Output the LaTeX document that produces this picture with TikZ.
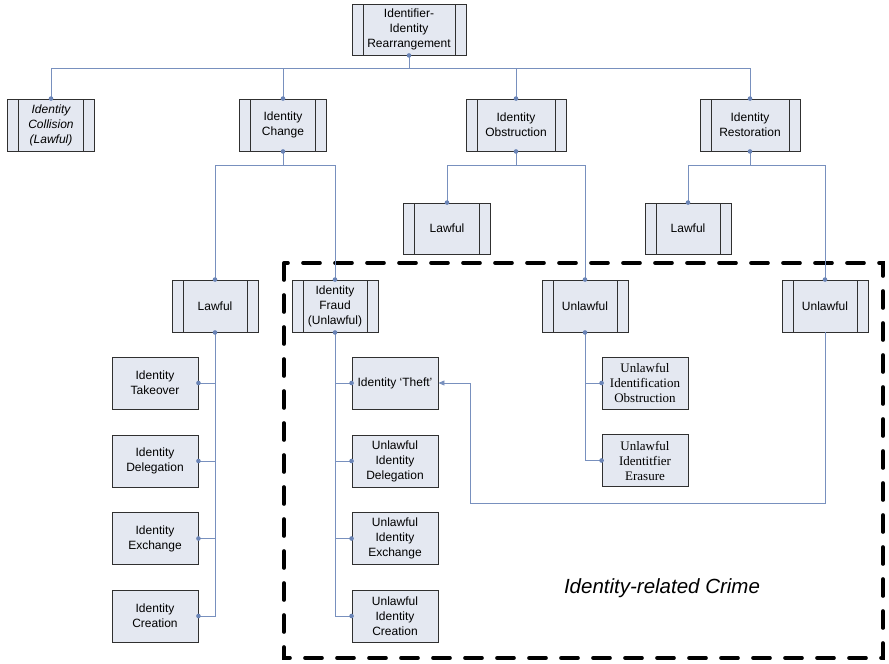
\documentclass[tikz,border=0pt]{standalone}
\usepackage{fontspec}
\setmainfont{Liberation Sans}
\newfontfamily\serifface{Liberation Serif}
\usetikzlibrary{arrows.meta}
\definecolor{boxfill}{HTML}{E4E8F1}
\definecolor{boxline}{HTML}{303030}
\definecolor{conncol}{HTML}{7890BE}
\definecolor{dotcol}{HTML}{6A84B6}
\tikzset{
  base/.style={draw=boxline, line width=0.9pt, fill=boxfill, inner sep=0pt, align=center,
    font=\fontsize{12}{15}\selectfont, minimum width=86pt, minimum height=52pt},
  barbox/.style={base, path picture={
    \draw[boxline, line width=0.9pt]
      ([xshift=11pt]path picture bounding box.north west) -- ([xshift=11pt]path picture bounding box.south west)
      ([xshift=-11pt]path picture bounding box.north east) -- ([xshift=-11pt]path picture bounding box.south east);}},
  leaf/.style={base},
  serifleaf/.style={base, font=\serifface\fontsize{13}{15}\selectfont},
  conn/.style={draw=conncol, line width=0.9pt},
  jdot/.style={fill=dotcol},
  crime/.style={draw=black, line width=3.6pt, dash pattern=on 17pt off 15pt, line cap=round}
}
\begin{document}
\begin{tikzpicture}[x=1pt,y=-1pt]
\useasboundingbox (0,0) rectangle (889,664);
% dashed region
\draw[crime] (284,263) rectangle (883,658);
\node[font=\fontsize{20.5}{23}\selectfont\itshape] (crimelbl) at (662,588) {Identity-related Crime};
% nodes
\node[barbox, minimum width=114pt, minimum height=51pt] (top) at (409,29.5) {Identifier-\\Identity\\Rearrangement};
\node[barbox, minimum width=87pt] (coll) at (51,125) {\itshape Identity\\\itshape Collision\\\itshape (Lawful)};
\node[barbox, minimum width=87pt] (chg) at (283,125) {Identity\\Change};
\node[barbox, minimum width=100pt] (obs) at (516,125) {Identity\\Obstruction};
\node[barbox, minimum width=100pt] (res) at (750,125) {Identity\\Restoration};
\node[barbox] (lawA) at (215,306) {Lawful};
\node[barbox] (fraud) at (335,306) {Identity\\Fraud\\(Unlawful)};
\node[barbox, minimum width=87pt, minimum height=51pt] (lawB) at (447,228.5) {Lawful};
\node[barbox] (unlB) at (585,306) {Unlawful};
\node[barbox, minimum height=51pt] (lawC) at (688,228.5) {Lawful};
\node[barbox] (unlC) at (825,306) {Unlawful};
% leaves
\node[leaf] (tko) at (155,383) {Identity\\Takeover};
\node[leaf] (del) at (155,461) {Identity\\Delegation};
\node[leaf] (exc) at (155,538.5) {Identity\\Exchange};
\node[leaf] (cre) at (155,616) {Identity\\Creation};
\node[leaf] (theft) at (395,383) {Identity ‘Theft’};
\node[leaf] (udel) at (395,461) {Unlawful\\Identity\\Delegation};
\node[leaf] (uexc) at (395,538.5) {Unlawful\\Identity\\Exchange};
\node[leaf] (ucre) at (395,616) {Unlawful\\Identity\\Creation};
\node[serifleaf] (uio) at (645,383) {Unlawful\\Identification\\Obstruction};
\node[serifleaf] (uie) at (645,460.5) {Unlawful\\Identitfier\\Erasure};
% connectors level 1
\draw[conn] (top.south) -- ++(0,13) -| (coll.north);
\draw[conn] (top.south) ++(0,13) -| (chg.north);
\draw[conn] (top.south) ++(0,13) -| (obs.north);
\draw[conn] (top.south) ++(0,13) -| (res.north);
% level 2
\draw[conn] (chg.south) -- ++(0,14) -| (lawA.north);
\draw[conn] (chg.south) ++(0,14) -| (fraud.north);
\draw[conn] (obs.south) -- ++(0,14) -| (lawB.north);
\draw[conn] (obs.south) ++(0,14) -| (unlB.north);
\draw[conn] (res.south) -- ++(0,14) -| (lawC.north);
\draw[conn] (res.south) ++(0,14) -| (unlC.north);
% leaves
\draw[conn] (lawA.south) |- (tko.east);
\draw[conn] (lawA.south) |- (del.east);
\draw[conn] (lawA.south) |- (exc.east);
\draw[conn] (lawA.south) |- (cre.east);
\draw[conn] (fraud.south) |- (theft.west);
\draw[conn] (fraud.south) |- (udel.west);
\draw[conn] (fraud.south) |- (uexc.west);
\draw[conn] (fraud.south) |- (ucre.west);
\draw[conn] (unlB.south) |- (uio.west);
\draw[conn] (unlB.south) |- (uie.west);
% return arrow
\coordinate (r1) at (825,503);
\coordinate (r2) at (470,503);
\draw[conn, -{Triangle[width=5pt,length=6pt]}] (unlC.south) -- (r1) -- (r2) |- (theft.east);
% dots
\foreach \p in {top.south, coll.north, chg.north, obs.north, res.north,
  chg.south, obs.south, res.south, lawA.north, fraud.north, lawB.north, unlB.north, lawC.north, unlC.north,
  lawA.south, fraud.south, unlB.south,
  tko.east, del.east, exc.east, cre.east, theft.west, udel.west, uexc.west, ucre.west, uio.west, uie.west}
  \fill[jdot] (\p) circle (2.3pt);
\end{tikzpicture}
\end{document}
